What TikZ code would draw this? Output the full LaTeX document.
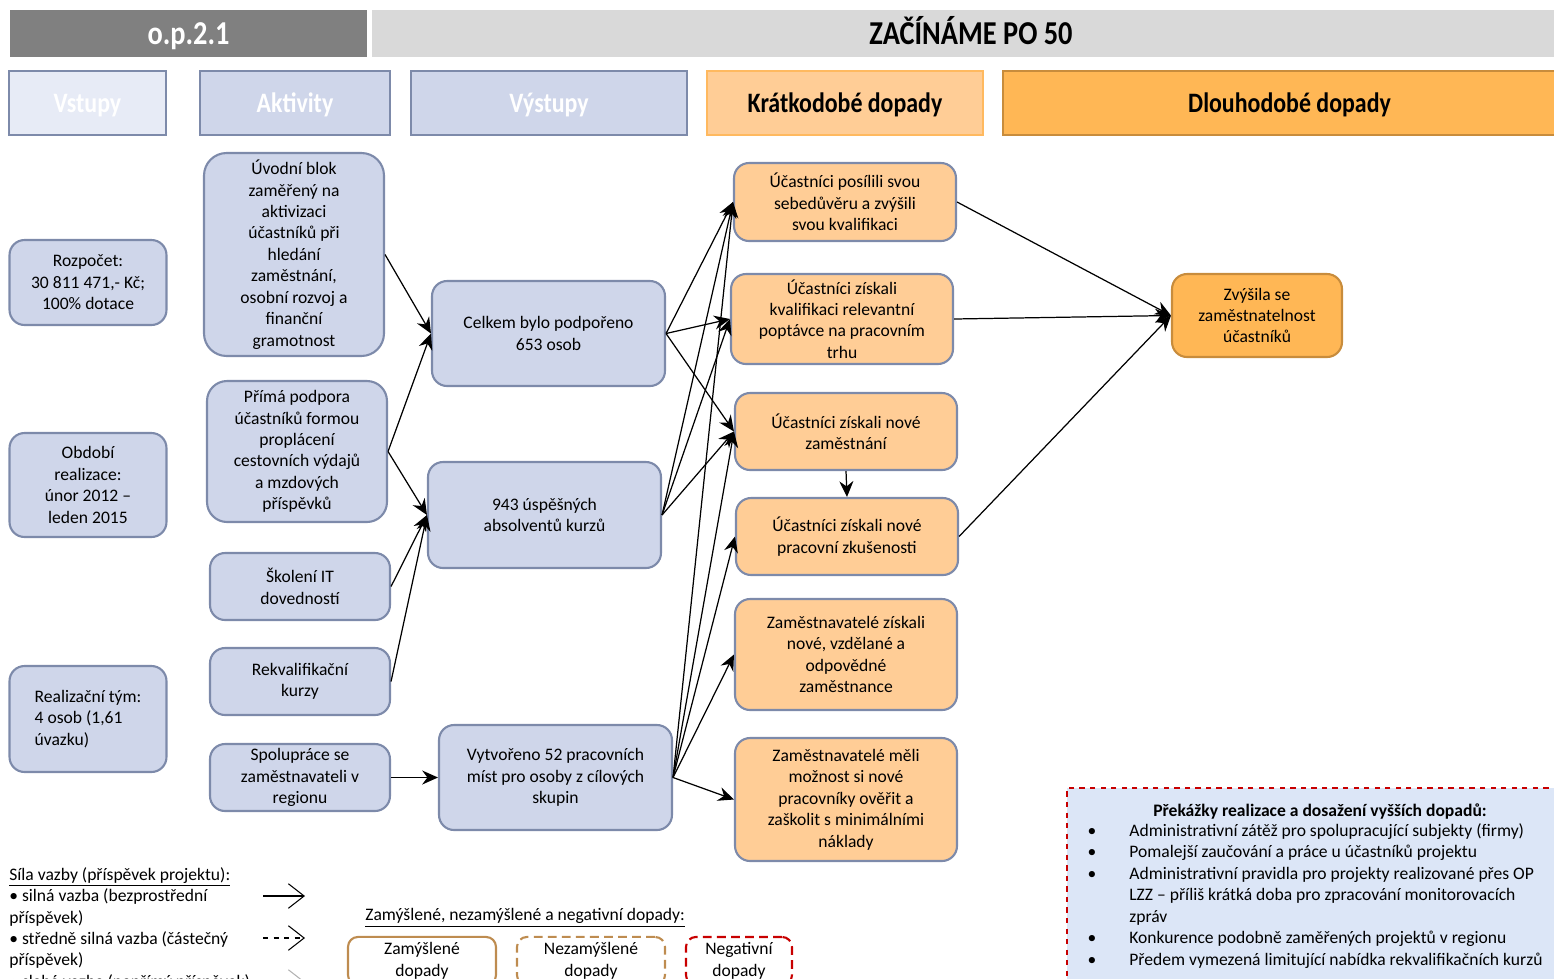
\documentclass[tikz,border=0pt]{standalone}
\usepackage{fontspec}
\setmainfont{Carlito}
\newfontfamily\condfont[FakeStretch=0.85]{Carlito}
\usetikzlibrary{arrows.meta}
\definecolor{bluefill}{RGB}{207,214,234}
\definecolor{bluepale}{RGB}{231,235,246}
\definecolor{blueline}{RGB}{125,138,170}
\definecolor{orafill}{RGB}{255,205,150}
\definecolor{oraline}{RGB}{255,185,95}
\definecolor{oradark}{RGB}{255,183,85}
\definecolor{orabrown}{RGB}{200,140,60}
\definecolor{graydark}{RGB}{128,128,128}
\definecolor{graylight}{RGB}{217,217,217}
\definecolor{legbrown}{RGB}{190,140,80}
\definecolor{legred}{RGB}{200,0,0}
\definecolor{obstfill}{RGB}{220,230,247}
\tikzset{
  box/.style = {draw = blueline, line width = 1.2pt, rounded corners = 0.3cm, align = center,
    inner sep = 2pt, font = \fontsize{10}{12.2}\selectfont},
  blubox/.style = {box, fill = bluefill},
  orabox/.style = {box, fill = orafill},
  hdr/.style = {line width = 1.2pt, inner sep = 0pt, text height = 10.3pt, text depth = 0pt,
    font = \condfont\bfseries\fontsize{16}{19}\selectfont},
  band/.style = {hdr, minimum height = 0.94cm, text height = 12.2pt,
    font = \condfont\bfseries\fontsize{19}{22}\selectfont},
  arr/.style = {-{Stealth[length = 9pt, width = 8pt, inset = 3pt]}, line width = 0.7pt},
  legarr/.style = {-{Straight Barb[length = 9pt, width = 14pt]}, line width = 0.6pt},
  legbox/.style = {line width = 1.2pt, rounded corners = 0.2cm, align = center, minimum height = 0.92cm,
    font = \fontsize{10}{12.2}\selectfont},
  legdash/.style = {dash pattern = on 5pt off 3pt},
  txt/.style = {inner sep = 0pt, font = \fontsize{10}{12.2}\selectfont}
}
\begin{document}
\begin{tikzpicture}[x = 0.02cm, y = -0.02cm]
\useasboundingbox (0,0) rectangle (1554,978);
% top bands
\node[band, fill = graydark, text = white, minimum width = 7.14cm] (hop) at (188.5,33.5) {o.p.2.1};
\node[band, fill = graylight, minimum width = 23.96cm] (hname) at (971,33.5) {ZAČÍNÁME PO 50};
% column headers
\node[hdr, draw = blueline, fill = bluepale, text = white, minimum width = 3.14cm, minimum height = 1.28cm] (hin) at (87.5,103) {Vstupy};
\node[hdr, draw = blueline, fill = bluefill, text = white, minimum width = 3.8cm, minimum height = 1.28cm] (hact) at (295,103) {Aktivity};
\node[hdr, draw = blueline, fill = bluefill, text = white, minimum width = 5.52cm, minimum height = 1.28cm] (hout) at (549,103) {Výstupy};
\node[hdr, draw = oraline, fill = orafill, minimum width = 5.52cm, minimum height = 1.28cm] (hshort) at (845,103) {Krátkodobé dopady};
\node[hdr, draw = orabrown, fill = oradark, minimum width = 11.46cm, minimum height = 1.28cm] (hlong) at (1289.5,103) {Dlouhodobé dopady};
% inputs
\node[blubox, minimum width = 3.14cm, minimum height = 1.7cm] (in1) at (88,282.5) {Rozpočet:\\30 811 471,- Kč;\\100\% dotace};
\node[blubox, minimum width = 3.14cm, minimum height = 2.08cm] (in2) at (88,485) {Období\\realizace:\\únor 2012 –\\leden 2015};
\node[blubox, align = left, minimum width = 3.14cm, minimum height = 2.12cm] (in3) at (88,719) {Realizační tým:\\4 osob (1,61\\úvazku)};
% activities
\node[blubox, rounded corners = 0.45cm, minimum width = 3.6cm, minimum height = 4.06cm] (a1) at (294,254.5) {Úvodní blok\\zaměřený na\\aktivizaci\\účastníků při\\hledání\\zaměstnání,\\osobní rozvoj a\\finanční\\gramotnost};
\node[blubox, rounded corners = 0.4cm, minimum width = 3.6cm, minimum height = 2.82cm] (a2) at (297,451.5) {Přímá podpora\\účastníků formou\\proplácení\\cestovních výdajů\\a mzdových\\příspěvků};
\node[blubox, minimum width = 3.6cm, minimum height = 1.34cm] (a3) at (300,586.5) {Školení IT\\dovedností};
\node[blubox, minimum width = 3.6cm, minimum height = 1.34cm] (a4) at (300,681.5) {Rekvalifikační\\kurzy};
\node[blubox, minimum width = 3.6cm, minimum height = 1.34cm] (a5) at (300,777.5) {Spolupráce se\\zaměstnavateli v\\regionu};
% outputs
\node[blubox, minimum width = 4.66cm, minimum height = 2.1cm] (o1) at (548.5,333.5) {Celkem bylo podpořeno\\653 osob};
\node[blubox, minimum width = 4.66cm, minimum height = 2.12cm] (o2) at (544.5,515) {943 úspěšných\\absolventů kurzů};
\node[blubox, minimum width = 4.66cm, minimum height = 2.1cm] (o3) at (555.5,777.5) {Vytvořeno 52 pracovních\\míst pro osoby z cílových\\skupin};
% short-term impacts
\node[orabox, minimum width = 4.44cm, minimum height = 1.56cm] (s1) at (845,202) {Účastníci posílili svou\\sebedůvěru a zvýšili\\svou kvalifikaci};
\node[orabox, minimum width = 4.44cm, minimum height = 1.8cm] (s2) at (842,319) {Účastníci získali\\kvalifikaci relevantní\\poptávce na pracovním\\trhu};
\node[orabox, minimum width = 4.44cm, minimum height = 1.54cm] (s3) at (846,431.5) {Účastníci získali nové\\zaměstnání};
\node[orabox, minimum width = 4.44cm, minimum height = 1.54cm] (s4) at (847,536.5) {Účastníci získali nové\\pracovní zkušenosti};
\node[orabox, minimum width = 4.44cm, minimum height = 2.22cm] (s5) at (846,654.5) {Zaměstnavatelé získali\\nové, vzdělané a\\odpovědné\\zaměstnance};
\node[orabox, minimum width = 4.44cm, minimum height = 2.46cm] (s6) at (846,799.5) {Zaměstnavatelé měli\\možnost si nové\\pracovníky ověřit a\\zaškolit s minimálními\\náklady};
% long-term impact
\node[box, draw = orabrown, fill = oradark, minimum width = 3.4cm, minimum height = 1.66cm] (l1) at (1257,315.5) {Zvýšila se\\zaměstnatelnost\\účastníků};
% links
\draw[arr] (a1.east) -- (o1.west);
\draw[arr] (a2.east) -- (o1.west);
\draw[arr] (a2.east) -- (o2.west);
\draw[arr] (a3.east) -- (o2.west);
\draw[arr] (a4.east) -- (o2.west);
\draw[arr] (a5.east) -- (o3.west);
\foreach \s in {s1,s2,s3} {
  \draw[arr] (o1.east) -- (\s.west);
  \draw[arr] (o2.east) -- (\s.west);
}
\foreach \s in {s1,s3,s4,s5,s6}
  \draw[arr] (o3.east) -- (\s.west);
\draw[arr] (s3.south) -- (s4.north);
\foreach \s in {s1,s2,s4}
  \draw[arr] (\s.east) -- (l1.west);
% legend: link strength
\node[txt, anchor = north west, align = left] (legtxt) at (9,867) {\underline{Síla vazby (příspěvek projektu):}\\• silná vazba (bezprostřední\\příspěvek)\\• středně silná vazba (částečný\\příspěvek)\\• slabá vazba (nepřímý příspěvek)};
\coordinate (ls1) at (263,896);
\coordinate (le1) at (305,896);
\coordinate (ls2) at (263,938);
\coordinate (le2) at (305,938);
\coordinate (ls3) at (263,982);
\coordinate (le3) at (305,982);
\draw[legarr] (ls1) -- (le1);
\draw[legarr, dashed] (ls2) -- (le2);
\draw[legarr, gray!60] (ls3) -- (le3);
% legend: kinds of impacts
\node[txt, anchor = west] (legkind) at (365,918) {\underline{Zamýšlené, nezamýšlené a negativní dopady:}};
\node[legbox, draw = legbrown, minimum width = 2.96cm] (lgint) at (422,961) {Zamýšlené\\dopady};
\node[legbox, draw = legbrown, legdash, minimum width = 2.96cm] (lgunint) at (591,961) {Nezamýšlené\\dopady};
\node[legbox, draw = legred, legdash, minimum width = 2.12cm] (lgneg) at (739,961) {Negativní\\dopady};
% obstacles
\node[draw = legred, dashed, fill = obstfill, line width = 1pt, minimum width = 9.86cm, minimum height = 4.04cm] (obst) at (1313.5,889) {};
\node[txt, font = \bfseries\fontsize{10}{12.2}\selectfont] (obtitle) at (1320,811) {Překážky realizace a dosažení vyšších dopadů:};
\foreach \yy in {832,853,875,939,961}
  \node[txt] at (1092,\yy) {•};
\foreach \yy/\tx in {832/Administrativní zátěž pro spolupracující subjekty (firmy),
    853/Pomalejší zaučování a práce u účastníků projektu,
    875/Administrativní pravidla pro projekty realizované přes OP,
    896/LZZ – příliš krátká doba pro zpracování monitorovacích,
    918/zpráv,
    939/Konkurence podobně zaměřených projektů v regionu,
    961/Předem vymezená limitující nabídka rekvalifikačních kurzů}
  \node[txt, anchor = west] at (1129,\yy) {\tx};
\end{tikzpicture}
\end{document}
